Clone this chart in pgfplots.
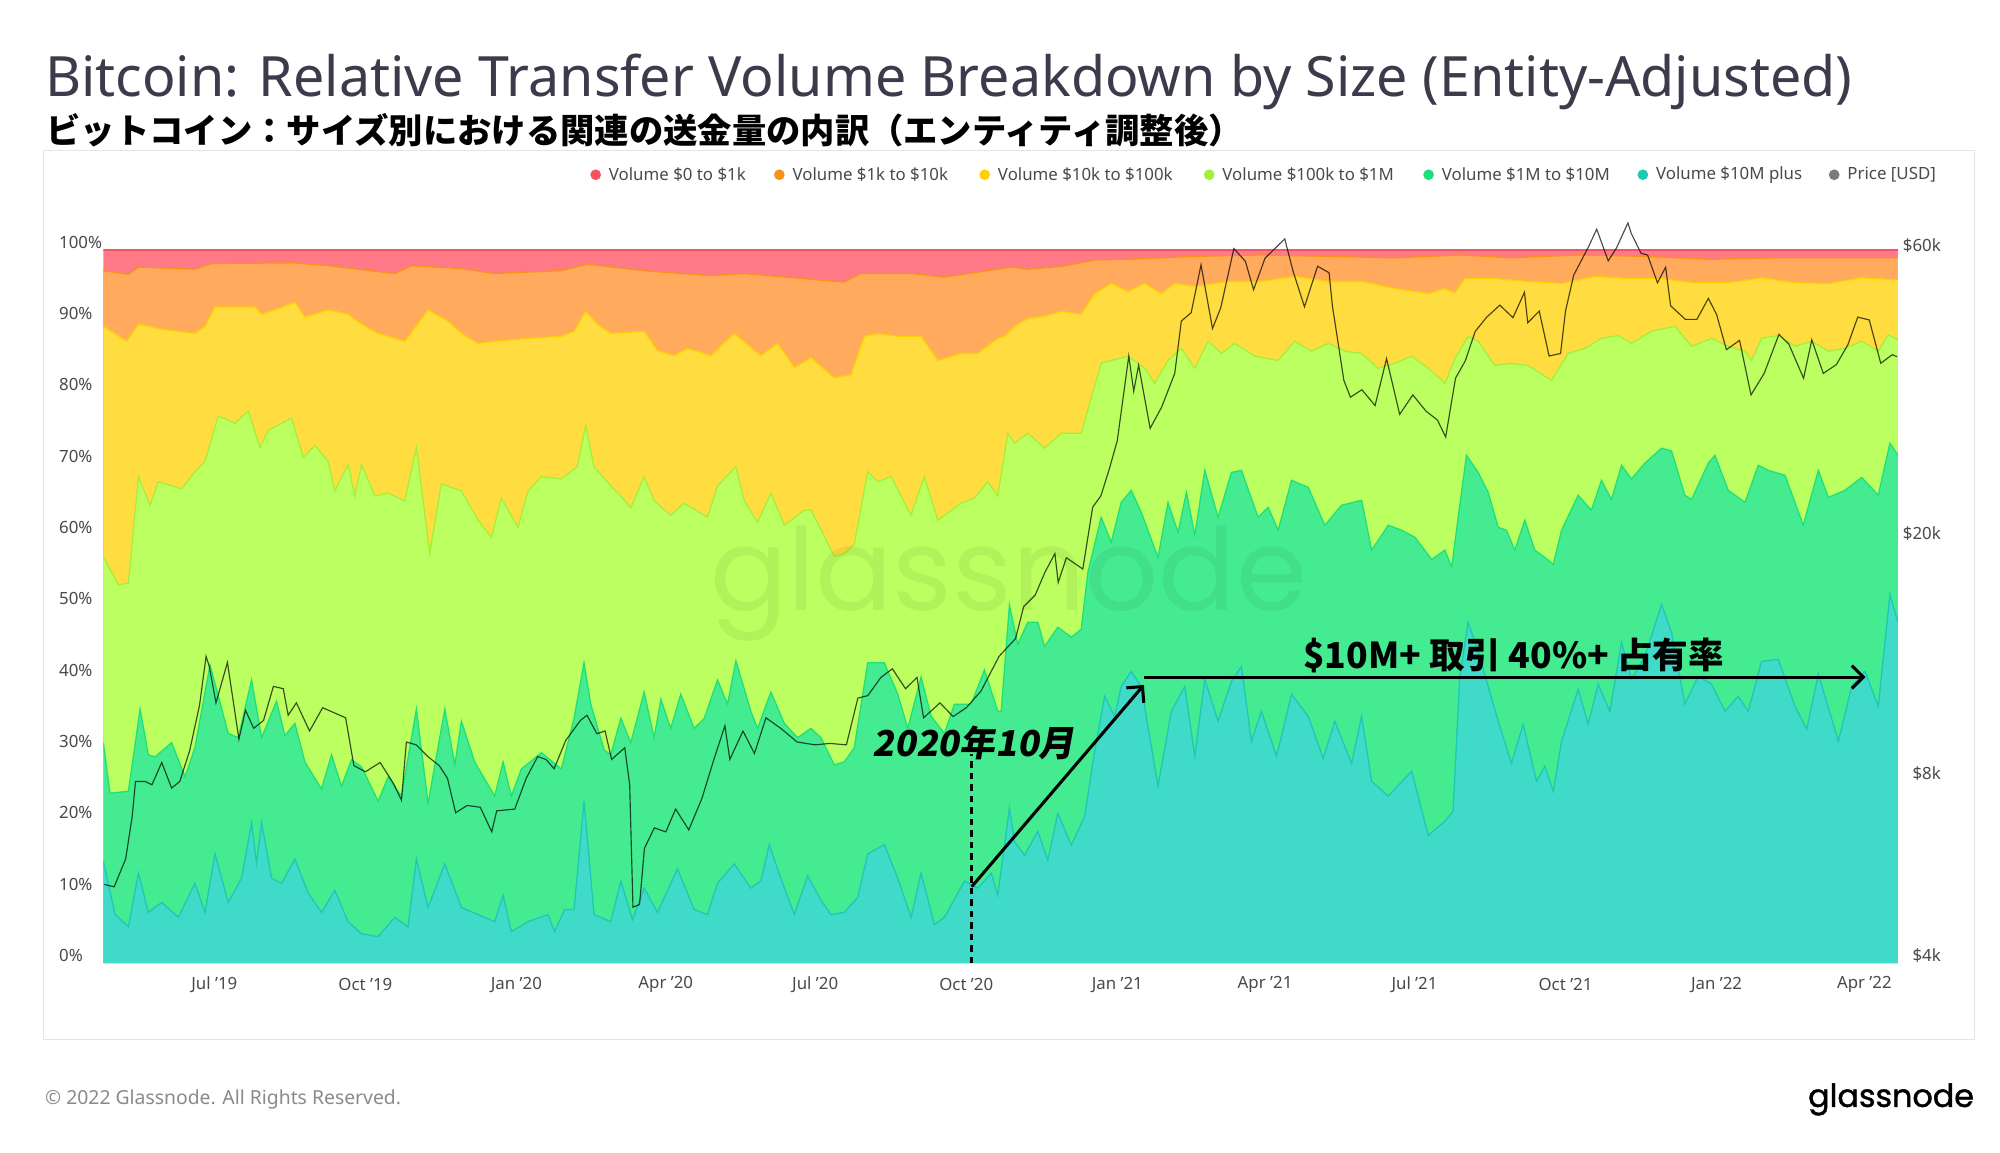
\documentclass[border=0pt]{standalone}
\usepackage{fontspec}
\setmainfont{Noto Sans}
\newfontfamily\cjk{Noto Sans CJK JP}
\newfontfamily\cjksl[FakeSlant=0.18]{Noto Sans CJK JP}
\newfontfamily\pop{Poppins}
\newfontfamily\popfb[FakeBold=1.3]{Poppins}
\usepackage{graphicx}
\usepackage{pgfplots}
\usepackage{pgfplotstable}
\pgfplotsset{compat=1.18}
\usetikzlibrary{arrows.meta}

\definecolor{titlec}{HTML}{3B3B4B}
\definecolor{framec}{HTML}{E4E4E4}
\definecolor{tickc}{HTML}{4A4A4A}
\definecolor{footc}{HTML}{8A8A8A}
\definecolor{fred}{HTML}{FF7A86}
\definecolor{sred}{HTML}{F7525F}
\definecolor{forange}{HTML}{FFAA5C}
\definecolor{sorange}{HTML}{F7931A}
\definecolor{fyellow}{HTML}{FFDC3F}
\definecolor{syellow}{HTML}{FFD000}
\definecolor{flgreen}{HTML}{BBFF60}
\definecolor{slgreen}{HTML}{A0F03C}
\definecolor{fgreen}{HTML}{45EB90}
\definecolor{sgreen}{HTML}{1EE07A}
\definecolor{fteal}{HTML}{3FDAC8}
\definecolor{steal}{HTML}{1BC9B5}
\definecolor{sgray}{HTML}{7A7A7A}

% boundary tables (cumulative share, %)
\pgfplotstableread{
x y
-67.6 97.1
-52.3 96.6
-46.2 97.6
-11.8 97.3
-1.6 98.1
49.1 98.2
69.4 97.8
109.9 96.7
120 97.8
150.5 97.4
170.8 96.7
211 97.1
227.2 98.0
261.8 97.1
302.4 96.4
322.8 96.7
353.3 96.1
383.7 95.5
393.9 96.7
424.4 96.7
444.7 96.2
485.4 97.6
495.5 97.3
515.9 97.7
536.2 98.6
556.5 98.7
597.2 99.1
637.8 99.3
678.5 99.1
719.1 98.9
759.8 99.3
790.1 98.9
830.7 99.3
871.3 99.1
912 98.7
952.6 98.9
993.2 98.9
1025.5 98.9
}\tBone

\pgfplotstableread{
x y
-67.6 89.3
-53.3 87.2
-46.2 89.6
-32 88.9
-11.8 88.3
-5.7 89.3
0.4 92.0
24.7 92.0
28.8 91.0
36.9 91.6
49.1 92.7
55.2 90.6
69.4 91.6
81.5 91.0
89.7 89.6
99.8 88.3
116 87.2
130.2 91.6
142.4 90.0
150.5 88.3
160.6 86.9
170.8 87.2
191.1 87.6
211.4 87.9
219.1 88.6
226.2 91.4
233.3 89.6
241.5 88.3
261.8 88.6
269.9 85.9
280.1 85.2
288.2 86.2
302.4 85.2
316.7 88.3
332.9 85.2
343.1 86.9
353.3 83.5
363.4 84.9
377.6 82.1
387.8 82.5
395.9 87.9
404.1 88.3
416.3 87.9
430.5 87.9
440.7 84.5
454.9 85.5
465 85.5
477.2 87.6
481.3 87.9
487.4 89.3
495.5 90.4
505.7 90.7
515.9 91.4
528 91.0
536.2 93.9
546.3 95.3
556.5 94.2
566.7 95.3
576.8 93.9
585 95.3
597.2 94.9
617.5 95.6
637.8 95.6
658.1 96.3
678.5 95.6
698.8 95.6
719.1 94.6
739.4 93.9
749.6 94.6
755.6 94.0
761.7 96.0
779.9 96.0
800.2 95.6
820.6 95.3
840.9 96.3
861.2 96.0
881.5 96.0
901.8 95.4
922.1 95.4
942.4 96.1
962.8 95.4
983.1 95.3
1003.4 96.1
1025.5 95.8
}\tBtwo

\pgfplotstableread{
x y
-67.6 57.0
-58.4 53.0
-52.3 53.3
-46.2 68.2
-39.1 64.2
-34.1 67.5
-19.9 66.5
-11.8 68.9
-5.7 70.3
2.4 76.7
12.6 75.7
20.7 77.4
27.8 72.3
32.9 74.7
47 76.4
54.2 70.9
61.3 72.6
69.4 70.3
73.4 66.2
81.5 69.9
85.6 65.5
89.7 69.9
97.8 65.5
105.9 65.9
116 64.8
123.1 72.3
131.2 57.4
138.3 67.2
150.5 66.2
160.6 62.1
168.8 59.7
174.8 65.2
185 61.1
191.1 66.2
199.2 68.2
211.4 67.9
221.1 69.6
226.2 75.4
231.3 69.6
241.5 66.9
247.6 65.5
253.7 63.8
261.8 68.2
267.9 64.8
278 62.8
286.2 64.5
300.4 62.5
306.5 66.9
317.7 69.6
322.8 64.8
330.9 61.8
339 65.9
347.2 61.4
359.3 63.5
363.4 63.5
369.5 60.8
377.6 57.0
383.7 57.4
389.8 58.7
398 68.9
404.1 67.5
412.2 68.2
424.4 62.8
432.5 68.2
440.7 62.1
454.9 64.5
463 65.2
471.1 67.5
477.2 65.5
483.3 74.3
487.4 72.9
495.5 74.3
505.7 72.2
515.9 74.3
528 74.3
534.1 79.2
540.2 84.1
546.3 84.5
556.5 85.1
566.7 83.4
572.8 81.3
580.9 84.5
589 86.2
597.2 83.4
605.3 87.2
613.4 85.5
621.5 86.9
633.7 85.1
648 84.5
658.1 87.2
668.3 85.8
678.5 86.9
688.6 85.8
698.8 85.5
708.9 83.4
719.1 84.1
729.3 85.1
739.4 83.4
749.6 81.3
755.7 84.8
763.7 87.9
769.8 87.2
779.9 83.8
790.1 84.1
800.2 83.8
814.5 81.7
824.6 85.5
834.8 86.2
844.9 87.6
855.1 88.0
863.2 86.9
875.4 88.6
889.6 89.3
899.8 86.5
912 87.6
922.1 86.5
932.3 85.8
936.3 84.5
942.4 87.6
952.6 88.0
962.8 86.5
972.9 87.2
983.1 85.8
993.2 86.2
1003.4 87.2
1013.5 85.8
1019.6 88.1
1025.5 87.4
}\tBthree

\pgfplotstableread{
x y
-67.6 30.9
-63.5 23.8
-52.3 24.1
-45.2 35.6
-40.2 29.2
-36.1 28.9
-26 30.9
-17.8 26.1
-11.8 30.2
-2.6 41.8
8.5 32.2
14.6 31.6
22.7 39.7
28.8 31.6
37.9 36.7
43 31.9
49.1 33.6
55.2 28.2
65.3 24.4
71.4 29.2
77.5 24.8
83.6 28.5
89.7 27.5
99.8 22.7
105.9 26.1
114 23.4
123.1 35.6
130.2 22.4
140.4 35.6
146.5 27.8
150.5 33.9
158.6 28.2
170.8 23.4
175.9 28.2
180.9 23.4
187 27.2
199.2 29.5
211.4 27.2
219.1 34.3
225.2 42.1
229.3 36.3
237.4 29.9
241.5 29.2
247.6 34.3
253.7 30.9
261.8 38.0
267.9 31.6
272 37.0
278 32.9
284.1 37.7
292.3 32.9
298.4 34.3
306.5 39.7
312.6 36.3
317.7 42.4
326.8 35.3
330.9 32.9
339 38.0
347.2 33.6
355.3 31.6
363.4 32.9
369.5 31.6
377.6 27.8
383.7 28.2
389.8 30.2
398 42.1
408.1 42.1
416.3 37.7
422.4 32.9
430.5 40.1
436.6 34.6
444.7 32.2
450.8 36.3
461 36.3
469.1 41.1
477.2 35.3
479.3 35.3
484.3 50.2
489.4 44.7
495.5 47.8
501.6 47.8
505.7 44.4
513.8 47.1
522 45.7
528 46.8
532.1 54.8
540.2 62.5
546.3 59.0
552.4 64.6
558.5 66.3
564.6 63.2
574.8 56.9
580.9 64.6
587 60.4
592.1 66.0
597.2 60.0
603.3 69.1
611.4 62.5
619.5 68.8
625.6 69.1
635.8 62.5
641.9 63.9
648 60.7
656.1 67.7
666.3 66.7
676.4 61.4
686.6 64.2
698.8 64.9
704.9 57.9
715 61.4
723.2 60.7
731.3 59.7
741.5 56.6
749.5 57.9
753.7 55.5
757.6 62.5
762.7 71.2
769.8 68.8
775.9 66.0
782 61.1
787 60.7
792.1 57.9
798.2 62.1
804.3 57.9
810.4 56.9
815.5 55.9
820.6 60.7
830.7 65.6
838.8 63.5
844.9 67.7
851 65.0
857.1 69.8
863.2 67.9
871.3 70.1
881.5 72.2
887.6 71.8
895.7 65.6
899.8 65.0
909.9 70.1
914 71.2
922.1 66.3
932.3 64.6
940.4 69.8
946.5 69.1
956.7 68.4
967.8 61.4
977 69.1
983.1 65.3
993.2 66.3
1003.4 68.1
1013.5 65.6
1020.6 72.9
1025.5 71.2
}\tBfour

\pgfplotstableread{
x y
-67.6 14.3
-60.4 6.8
-52.3 5.1
-46.2 12.6
-40.2 7.1
-32 8.5
-21.9 6.4
-11.8 11.2
-5.7 7.1
0.4 15.3
8.5 8.5
16.6 11.9
22.7 19.7
25.7 14.0
28.8 19.7
34.9 11.9
41 11.2
49.1 14.6
57.2 9.8
65.3 7.1
73.4 10.2
81.5 5.8
89.7 4.1
99.8 3.7
109.9 6.4
118 5.1
123.1 14.6
130.2 7.8
140.4 13.9
150.5 7.8
160.6 6.8
170.8 5.8
175.9 9.5
180.9 4.4
191.1 5.8
203.2 6.8
207.3 4.4
213.4 7.5
219.1 7.5
225.2 22.7
231.3 6.8
241.5 5.8
247.6 11.5
254.7 6.1
261.8 10.5
269.9 7.1
282.1 13.2
292.3 7.5
300.4 6.8
306.5 11.2
316.7 13.9
326.8 10.5
332.9 11.5
338 16.6
347.2 10.5
353.3 6.8
361.4 12.2
369.5 8.8
375.6 6.8
383.7 7.1
391.9 9.2
398 15.3
408.1 16.6
416.3 11.9
424.4 6.4
430.5 12.6
438.6 5.4
444.7 6.4
456.9 11.5
465 10.5
473.2 12.6
477.2 9.5
484.3 21.7
487.4 17.0
493.5 15.1
501.6 18.5
507.7 14.4
513.8 21.0
522 16.5
530.1 20.6
536.2 29.7
542.3 37.4
548.4 34.6
552.4 38.8
558.5 40.9
564.6 38.8
574.8 24.8
582.9 35.3
591.1 38.8
597.2 29.0
603.3 39.8
611.4 33.9
619.5 39.5
625.6 41.6
631.7 31.1
637.8 35.3
647 29.0
656.1 37.7
666.3 34.6
675.4 28.7
682.5 33.9
692.7 28.0
698.8 34.6
704.9 25.5
715 23.4
729.3 26.9
739.4 17.9
749.6 19.9
754.5 21.3
758.6 40.2
763.7 47.8
769.8 43.7
775.9 38.8
782 33.9
790.1 28.0
797.2 33.5
805.3 25.5
810.4 27.6
815.5 24.1
820.6 31.1
830.7 38.4
836.8 33.5
842.9 39.1
850 35.3
857.1 45.0
863.2 39.8
871.3 43.0
881.5 50.3
887.6 46.4
895.7 36.3
903.8 40.2
912 39.1
920.1 35.3
928.2 37.4
934.3 35.3
942.4 42.3
952.6 42.6
962.8 36.0
969.9 32.8
977 40.5
989.2 31.1
997.3 38.8
1005.4 40.9
1013.5 36.0
1020.6 51.7
1025.5 47.8
}\tBfive

\pgfplotstableread{
x y
-67 5400
-61 5350
-54 5950
-50 7000
-48 8000
-42 8000
-38 7900
-32 8600
-26 7800
-21 8000
-15 9000
-9 10700
-5 12900
-3 12400
1 10800
8 12600
15 9400
19 10500
24 9800
30 10100
36 11500
42 11400
45 10300
50 10800
58 9700
66 10600
73 10400
80 10200
85 8500
92 8300
101 8600
109 7950
114 7450
117 9300
123 9200
130 8800
137 8500
142 8100
147 7100
154 7300
162 7250
169 6600
172 7150
183 7200
190 8100
197 8800
202 8700
207 8400
214 9350
223 10100
227 10300
233 9600
238 9700
242 8700
250 9100
253 7900
255 4950
259 5000
262 6200
268 6700
275 6600
281 7200
289 6650
297 7500
304 8650
311 9900
314 8700
322 9700
329 8900
336 10200
345 9800
355 9300
366 9200
375 9250
385 9200
392 11000
398 11100
406 11900
413 12300
421 11400
428 11900
432 10200
442 10800
450 10250
458 10600
467 11300
478 12900
488 13800
493 15600
500 16300
506 17800
512 19100
514 17100
519 18800
529 18000
535 22800
540 23800
545 26300
550 29400
557 40600
560 35500
563 39200
570 30800
577 33400
585 38000
589 46400
595 47900
601 57500
608 45100
613 48800
621 61200
628 58300
633 52300
640 59000
652 63500
657 56200
664 49000
672 57200
679 55800
681 49200
688 37000
692 34700
699 35700
707 33600
714 40200
722 32500
730 35000
738 32900
745 31800
750 29800
756 37300
762 39900
768 44600
775 47100
783 49300
791 47000
798 51800
800 46100
807 48200
813 40600
820 41000
823 48200
828 55300
837 61600
842 65900
849 58400
854 61300
861 67500
863 64900
869 60100
873 59700
879 53700
884 57000
887 49200
896 46700
903 46700
910 50600
915 47600
921 41600
929 43100
936 35000
944 38000
953 44100
959 42500
968 37300
973 43200
980 38000
988 39300
995 42400
1001 47100
1008 46600
1015 39500
1022 40800
1025 40500
}\tPrice

\pgfplotsset{
  basegn/.style={
    at={(40.5pt,-377.5pt)}, anchor=south west,
    scale only axis, width=703.5pt, height=279.5pt,
    xmin=-67.6, xmax=1025.5,
    axis line style={draw=none},
    major tick length=0pt,
    tick label style={font=\fontsize{6.6}{8}\selectfont, text=tickc, inner sep=0pt},
    /pgf/number format/assume math mode=true,
  }
}

\begin{document}
\begin{tikzpicture}
\path[use as bounding box, fill=white] (0pt,0pt) rectangle (784pt,-451.6pt);
\draw[draw=framec, line width=0.6pt] (17pt,-59pt) rectangle (774pt,-407.5pt);

% titles
\node[anchor=base west, inner sep=0pt, text=titlec] at (17.5pt,-38pt)
  {\resizebox{708.5pt}{!}{Bitcoin: Relative Transfer Volume Breakdown by Size (Entity-Adjusted)}};
\node[anchor=west, inner sep=0pt] at (18pt,-51pt)
  {\resizebox{469pt}{!}{\cjk\bfseries ビットコイン：サイズ別における関連の送金量の内訳（エンティティ調整後）}};

% legend
\begin{scope}[every node/.style={anchor=west, inner sep=0pt, text=tickc, font=\fontsize{6.6}{8}\selectfont}]
\fill[sred] (233.5pt,-68.5pt) circle (2.1pt);
\node at (238.5pt,-68.5pt) {Volume \$0 to \$1k};
\fill[sorange] (305.5pt,-68.5pt) circle (2.1pt);
\node at (310.5pt,-68.5pt) {Volume \$1k to \$10k};
\fill[syellow] (386pt,-68.5pt) circle (2.1pt);
\node at (391pt,-68.5pt) {Volume \$10k to \$100k};
\fill[slgreen] (474pt,-68.5pt) circle (2.1pt);
\node at (479pt,-68.5pt) {Volume \$100k to \$1M};
\fill[sgreen] (560pt,-68.5pt) circle (2.1pt);
\node at (565pt,-68.5pt) {Volume \$1M to \$10M};
\fill[steal] (644pt,-68.5pt) circle (2.1pt);
\node at (649pt,-68.5pt) {Volume \$10M plus};
\fill[sgray] (719pt,-68.5pt) circle (2.1pt);
\node at (724pt,-68.5pt) {Price [USD]};
\end{scope}

\begin{axis}[basegn,
  ymin=0, ymax=100,
  xtick={0,92,184,275,366,458,550,640,731,823,915,1005},
  xticklabels={Jul '19,Oct '19,Jan '20,Apr '20,Jul '20,Oct '20,Jan '21,Apr '21,Jul '21,Oct '21,Jan '22,Apr '22},
  xticklabel style={anchor=center, yshift=-8.5pt},
  ytick={0,10,...,100},
  yticklabel={\pgfmathprintnumber{\tick}\%},
  yticklabel style={anchor=west, xshift=-17.5pt, yshift=3pt},
]
\addplot[fill=fred, draw=none] coordinates {(-67.6,100) (1025.5,100)} \closedcycle;
\addplot[draw=sred, line width=0.6pt] coordinates {(-67.6,100) (1025.5,100)};
\addplot[fill=forange, draw=none] table {\tBone} \closedcycle;
\addplot[draw=sorange, line width=0.5pt] table {\tBone};
\addplot[fill=fyellow, draw=none] table {\tBtwo} \closedcycle;
\addplot[draw=syellow, line width=0.5pt] table {\tBtwo};
\addplot[fill=flgreen, draw=none] table {\tBthree} \closedcycle;
\addplot[draw=slgreen, line width=0.5pt] table {\tBthree};
\addplot[fill=fgreen, draw=none] table {\tBfour} \closedcycle;
\addplot[draw=sgreen, line width=0.5pt] table {\tBfour};
\addplot[fill=fteal, draw=none] table {\tBfive} \closedcycle;
\addplot[draw=steal, line width=0.5pt] table {\tBfive};
\node[opacity=0.05, inner sep=0pt] at (axis cs:483.8,53.2) {\resizebox{234pt}{!}{\pop glassnode}};
\coordinate (dtop) at (axis cs:461.3,29.3);
\coordinate (dbot) at (axis cs:461.3,0);
\coordinate (t1) at (axis cs:462.5,30.9);
\coordinate (a1s) at (axis cs:461.3,10.7);
\coordinate (a1e) at (axis cs:566.2,39.0);
\coordinate (a2s) at (axis cs:566.2,40.1);
\coordinate (a2e) at (axis cs:1005.7,40.1);
\coordinate (t2) at (axis cs:791.4,43.1);
\end{axis}

\begin{axis}[basegn,
  ymode=log, ymin=4000, ymax=60870,
  clip=false,
  hide x axis,
  axis y line*=right,
  ytick={4000,8000,20000,60000},
  yticklabels={\$4k,\$8k,\$20k,\$60k},
  yticklabel style={anchor=east, xshift=17pt, yshift=3pt},
]
\addplot[draw=black, opacity=0.7, line width=0.45pt] table {\tPrice};
\end{axis}

% annotations
\draw[black, line width=1.2pt, dash pattern=on 2.5pt off 2pt] (dbot) -- (dtop);
\node[inner sep=0pt] at (t1) {\resizebox{79pt}{!}{\cjksl\bfseries 2020年10月}};
\draw[black, line width=1.2pt, -{Straight Barb[length=4.5pt,width=9pt,line width=1.2pt]}] (a1s) -- (a1e);
\draw[black, line width=1.2pt, -{Straight Barb[length=4.5pt,width=9pt,line width=1.2pt]}] (a2s) -- (a2e);
\node[inner sep=0pt] at (t2) {\resizebox{165pt}{!}{\cjk\bfseries \$10M+ 取引 40\%+ 占有率}};

% footer
\node[anchor=west, inner sep=0pt, text=footc] at (17.5pt,-431pt)
  {\resizebox{139.5pt}{!}{© 2022 Glassnode. All Rights Reserved.}};
\node[anchor=east, inner sep=0pt] at (774pt,-431pt)
  {\resizebox{65pt}{!}{\popfb glassnode}};
\end{tikzpicture}
\end{document}
